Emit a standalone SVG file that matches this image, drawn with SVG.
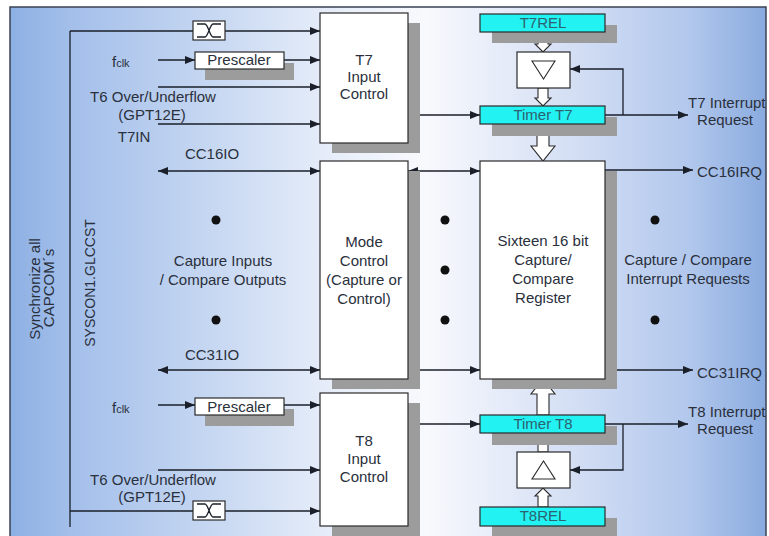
<svg xmlns="http://www.w3.org/2000/svg" width="769" height="536" viewBox="0 0 769 536">
<defs>
<linearGradient id="bg" x1="10" y1="0" x2="766" y2="0" gradientUnits="userSpaceOnUse">
<stop offset="0" stop-color="#8db0e3"/>
<stop offset="0.08" stop-color="#a3bfea"/>
<stop offset="0.25" stop-color="#c3d5f1"/>
<stop offset="0.42" stop-color="#e6edf9"/>
<stop offset="0.55" stop-color="#f8f9fd"/>
<stop offset="0.75" stop-color="#d3def4"/>
<stop offset="0.9" stop-color="#b1c7ec"/>
<stop offset="1" stop-color="#8aabdf"/>
</linearGradient>
<marker id="ah" viewBox="0 0 10 8" refX="10" refY="4" markerWidth="10" markerHeight="8" markerUnits="userSpaceOnUse" orient="auto-start-reverse">
<path d="M0,0 L10,4 L0,8 Z" fill="#1a1f2a"/>
</marker>
<style>
.t{font-family:"Liberation Sans",Arial,sans-serif;font-size:15px;fill:#2a303c}
.m{text-anchor:middle}
.c{fill:#2e6170}
.box{fill:#fff;stroke:#2a2a2a;stroke-width:1.2}
.cy{fill:#22f2f2;stroke:#2a2a2a;stroke-width:1.2}
.sh{fill:#9c9c9c}
.ln{fill:none;stroke:#1a1f2a;stroke-width:1.3}
.ar{marker-end:url(#ah)}
.da{marker-start:url(#ah);marker-end:url(#ah)}
.ho{fill:#fff;stroke:#2a2a2a;stroke-width:1.1}
</style>
</defs>
<rect x="0" y="0" width="769" height="536" fill="#fff"/>
<rect x="10" y="7" width="756" height="540" fill="url(#bg)" stroke="#3a4252" stroke-width="1.5"/>

<g id="labels-left">
<text class="t m" transform="translate(40,289) rotate(-90)">Synchronize all</text>
<text class="t m" transform="translate(54,288) rotate(-90)">CAPCOM´s</text>
<text class="t m" transform="translate(95,283) rotate(-90)" style="font-size:14px">SYSCON1.GLCCST</text>
<text class="t" x="112" y="67">f<tspan style="font-size:11px">clk</tspan></text>
<text class="t m" x="153" y="102">T6 Over/Underflow</text>
<text class="t m" x="152" y="120">(GPT12E)</text>
<text class="t m" x="134" y="142">T7IN</text>
<text class="t m" x="212" y="159">CC16IO</text>
<text class="t m" x="223" y="266">Capture Inputs</text>
<text class="t m" x="223" y="285">/ Compare Outputs</text>
<text class="t m" x="212" y="360">CC31IO</text>
<text class="t" x="112" y="413">f<tspan style="font-size:11px">clk</tspan></text>
<text class="t m" x="153" y="485">T6 Over/Underflow</text>
<text class="t m" x="152" y="502">(GPT12E)</text>
</g>

<g id="labels-right">
<text class="t" x="688" y="108">T7 Interrupt</text>
<text class="t m" x="725" y="125">Request</text>
<text class="t" x="697" y="177">CC16IRQ</text>
<text class="t m" x="688" y="265">Capture / Compare</text>
<text class="t m" x="688" y="284">Interrupt Requests</text>
<text class="t" x="697" y="378">CC31IRQ</text>
<text class="t" x="688" y="417">T8 Interrupt</text>
<text class="t m" x="725" y="434">Request</text>
</g>

<g id="dots" fill="#111">
<circle cx="216" cy="220" r="4.5"/>
<circle cx="216" cy="320" r="4.5"/>
<circle cx="445" cy="220" r="4.5"/>
<circle cx="445" cy="270" r="4.5"/>
<circle cx="445" cy="320" r="4.5"/>
<circle cx="655" cy="220" r="4.5"/>
<circle cx="655" cy="320" r="4.5"/>
</g>

<g id="connectors">
<path class="ln" d="M70,31 V527"/>
<path class="ln" d="M70,31 H193"/>
<path class="ln ar" d="M225,31 H320"/>
<path class="ln ar" d="M158,60 H195"/>
<path class="ln ar" d="M284,60 H320"/>
<path class="ln ar" d="M158,87 H320"/>
<path class="ln ar" d="M158,124 H320"/>
<path class="ln da" d="M158,171 H320"/>
<path class="ln da" d="M158,370 H320"/>
<path class="ln da" d="M408,171 H480"/>
<path class="ln da" d="M408,370 H480"/>
<path class="ln ar" d="M408,115 H480"/>
<path class="ln ar" d="M605,115 H688"/>
<path class="ln ar" d="M623,115 V69 H570"/>
<path class="ln ar" d="M605,170 H693"/>
<path class="ln ar" d="M605,370 H693"/>
<path class="ln ar" d="M158,405 H195"/>
<path class="ln ar" d="M284,405 H320"/>
<path class="ln ar" d="M158,470 H320"/>
<path class="ln" d="M70,511 H193"/>
<path class="ln ar" d="M225,511 H320"/>
<path class="ln ar" d="M408,424 H480"/>
<path class="ln ar" d="M605,424 H688"/>
<path class="ln ar" d="M623,424 V470 H570"/>
<path class="ho" d="M538,32 V44 H535 L543,52 L551,44 H548 V32 Z"/>
<path class="ho" d="M538,88 V98 H535 L543,106 L551,98 H548 V88 Z"/>
<path class="ho" d="M537,124 V146 H531 L543,161 L555,146 H549 V124 Z"/>
<path class="ho" d="M537,415 V394 H531 L543,379 L555,394 H549 V415 Z"/>
<path class="ho" d="M538,452 V441 H535 L543,433 L551,441 H548 V452 Z"/>
<path class="ho" d="M538,507 V496 H535 L543,488 L551,496 H548 V507 Z"/>
</g>

<g id="sync-top">
<rect class="box" x="193" y="21" width="32" height="19"/>
<path class="ln" d="M197,24 H205 C208,24 210,37 213,37 H221 M221,24 H213 C210,24 208,37 205,37 H197" stroke-width="1"/>
</g>
<g id="sync-bottom">
<rect class="box" x="193" y="501" width="32" height="19"/>
<path class="ln" d="M197,504 H205 C208,504 210,517 213,517 H221 M221,504 H213 C210,504 208,517 205,517 H197" stroke-width="1"/>
</g>

<g id="prescaler-top">
<rect class="sh" x="205" y="63" width="89" height="17"/>
<rect class="box" x="195" y="52" width="89" height="17"/>
<text class="t m" x="239" y="65">Prescaler</text>
</g>
<g id="prescaler-bottom">
<rect class="sh" x="205" y="409" width="89" height="17"/>
<rect class="box" x="195" y="398" width="89" height="17"/>
<text class="t m" x="239" y="412">Prescaler</text>
</g>

<g id="t7-input">
<rect class="sh" x="332" y="23" width="88" height="130"/>
<rect class="box" x="320" y="13" width="88" height="130"/>
<text class="t m" x="364" y="65">T7</text>
<text class="t m" x="364" y="82">Input</text>
<text class="t m" x="364" y="99">Control</text>
</g>
<g id="mode-control">
<rect class="sh" x="332" y="171" width="88" height="218"/>
<rect class="box" x="320" y="161" width="88" height="218"/>
<text class="t m" x="364" y="247">Mode</text>
<text class="t m" x="364" y="266">Control</text>
<text class="t m" x="364" y="285">(Capture or</text>
<text class="t m" x="364" y="304">Control)</text>
</g>
<g id="t8-input">
<rect class="sh" x="332" y="403" width="88" height="140"/>
<rect class="box" x="320" y="393" width="88" height="133"/>
<text class="t m" x="364" y="446">T8</text>
<text class="t m" x="364" y="464">Input</text>
<text class="t m" x="364" y="482">Control</text>
</g>
<g id="cc-register">
<rect class="sh" x="492" y="171" width="125" height="218"/>
<rect class="box" x="480" y="161" width="125" height="218"/>
<text class="t m" x="543" y="246">Sixteen 16 bit</text>
<text class="t m" x="543" y="265">Capture/</text>
<text class="t m" x="543" y="284">Compare</text>
<text class="t m" x="543" y="303">Register</text>
</g>
<g id="t7rel">
<rect class="sh" x="492" y="25" width="125" height="18"/>
<rect class="cy" x="480" y="14" width="125" height="18"/>
<text class="t m c" x="543" y="28">T7REL</text>
</g>
<g id="t7-reload">
<rect class="box" x="517" y="52" width="53" height="36"/>
<path class="ho" d="M532,61 L555,61 L543.5,79 Z" stroke-width="1.3"/>
</g>
<g id="timer-t7">
<rect class="sh" x="492" y="117" width="125" height="19"/>
<rect class="cy" x="480" y="106" width="125" height="18"/>
<text class="t m c" x="543" y="120">Timer T7</text>
</g>
<g id="timer-t8">
<rect class="sh" x="492" y="426" width="125" height="19"/>
<rect class="cy" x="480" y="415" width="125" height="18"/>
<text class="t m c" x="543" y="429">Timer T8</text>
</g>
<g id="t8-reload">
<rect class="box" x="517" y="452" width="53" height="36"/>
<path class="ho" d="M532,479 L555,479 L543.5,461 Z" stroke-width="1.3"/>
</g>
<g id="t8rel">
<rect class="sh" x="492" y="518" width="125" height="20"/>
<rect class="cy" x="480" y="507" width="125" height="19"/>
<text class="t m c" x="543" y="521">T8REL</text>
</g>
</svg>
